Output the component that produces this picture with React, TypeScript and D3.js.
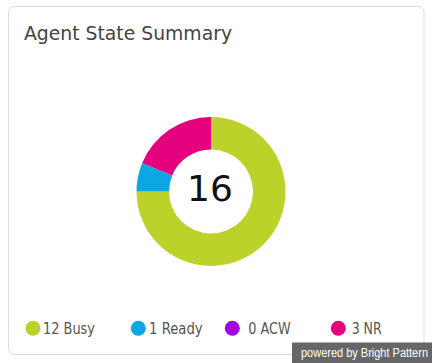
import React from "react";
import * as d3 from "d3";

const title = "Agent State Summary";
const states = ["Busy", "Ready", "ACW", "NR"];
const counts = [12, 1, 0, 3];
const colors = ["#BCD22B", "#0BA7E2", "#A200E3", "#E5007E"];
const footer = "powered by Bright Pattern";

const W = 432;
const H = 363;

// legend layout (pixel positions, not data)
const legendDotX = [33, 138.3, 232.3, 338.3];
const legendTextX = [43, 149, 248.3, 351.7];
const legendTextW = [52, 53.7, 42.4, 30];

export default function App() {
  const total = d3.sum(counts);
  const cx = 211;
  const cy = 191.5;
  const rOut = 74.5;
  const rIn = 42;
  const pie = d3
    .pie<number>()
    .sort(null)
    .value((d) => d)(counts);
  const arc = d3.arc<d3.PieArcDatum<number>>().innerRadius(rIn).outerRadius(rOut);

  const condensed = "'DejaVu Sans Condensed', 'DejaVu Sans', sans-serif";
  const font = "'DejaVu Sans', sans-serif";

  return (
    <svg
      width={W}
      height={H}
      style={{ position: "absolute", left: 0, top: 0, display: "block" }}
    >
      <rect x={0} y={0} width={W} height={H} fill="#fff" />
      <rect
        x={8.5}
        y={6.5}
        width={415.5}
        height={348}
        rx={6}
        ry={6}
        fill="#fff"
        stroke="#dcdcdc"
        strokeWidth={1}
      />
      <text
        x={24}
        y={39.5}
        fontFamily={condensed}
        fontSize={20}
        fill="#444"
        textLength={208}
        lengthAdjust="spacingAndGlyphs"
      >
        {title}
      </text>
      <g transform={`translate(${cx},${cy})`}>
        {pie.map((p, i) => (
          <path key={states[i]} d={arc(p) || ""} fill={colors[i]} />
        ))}
        <text
          x={-1}
          y={9}
          textAnchor="middle"
          fontFamily={font}
          fontSize={36}
          fill="#111"
        >
          {total}
        </text>
      </g>
      {states.map((s, i) => (
        <g key={s}>
          <circle cx={legendDotX[i]} cy={328.3} r={7.5} fill={colors[i]} />
          <text
            x={legendTextX[i]}
            y={334.3}
            fontFamily={condensed}
            fontSize={15}
            fill="#555"
            textLength={legendTextW[i]}
            lengthAdjust="spacingAndGlyphs"
          >
            {`${counts[i]} ${s}`}
          </text>
        </g>
      ))}
      <rect x={292} y={342.5} width={140} height={20.5} fill="#666" />
      <text
        x={301}
        y={357}
        fontFamily="'Liberation Sans', Arial, sans-serif"
        fontSize={12}
        fill="#fff"
        textLength={127}
        lengthAdjust="spacingAndGlyphs"
      >
        {footer}
      </text>
    </svg>
  );
}
